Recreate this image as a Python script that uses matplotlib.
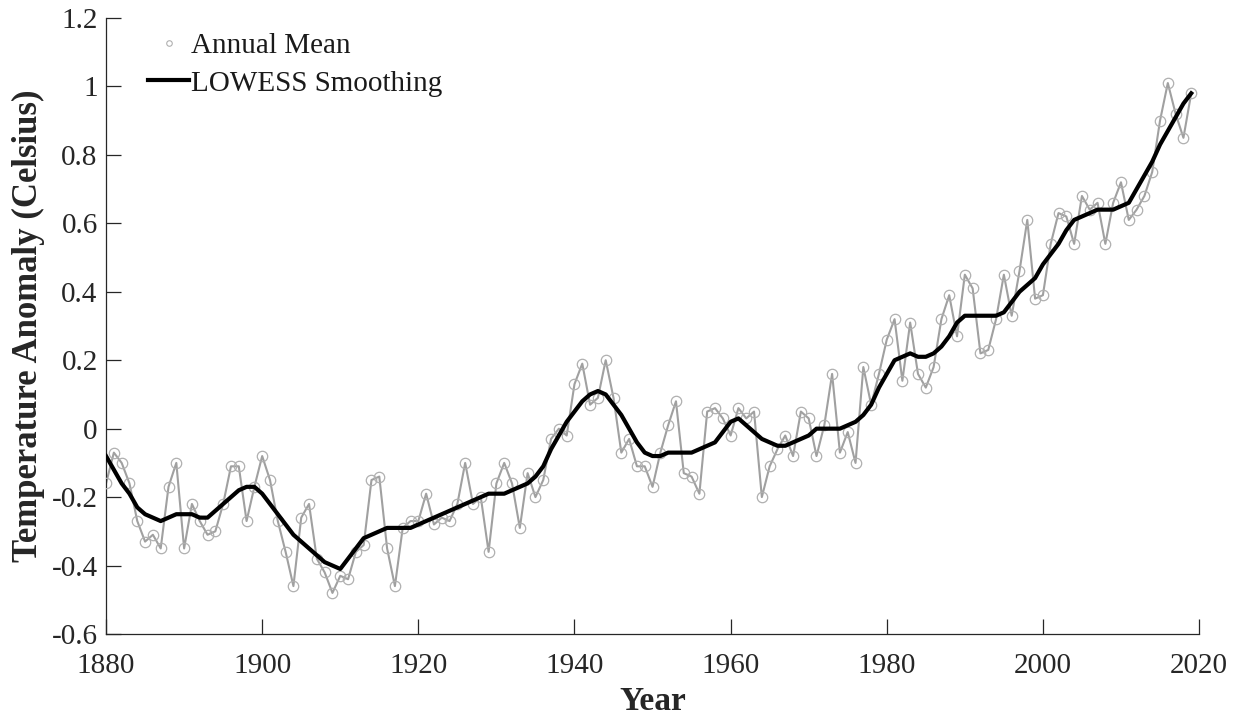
import numpy as np
import matplotlib
matplotlib.use("Agg")
import matplotlib.pyplot as plt
from matplotlib.lines import Line2D

years = list(range(1880, 2020))

annual_mean = [
    -0.16, -0.07, -0.10, -0.16, -0.27, -0.33, -0.31, -0.35, -0.17, -0.10,
    -0.35, -0.22, -0.27, -0.31, -0.30, -0.22, -0.11, -0.11, -0.27, -0.17,
    -0.08, -0.15, -0.27, -0.36, -0.46, -0.26, -0.22, -0.38, -0.42, -0.48,
    -0.43, -0.44, -0.36, -0.34, -0.15, -0.14, -0.35, -0.46, -0.29, -0.27,
    -0.27, -0.19, -0.28, -0.26, -0.27, -0.22, -0.10, -0.22, -0.20, -0.36,
    -0.16, -0.10, -0.16, -0.29, -0.13, -0.20, -0.15, -0.03, 0.00, -0.02,
    0.13, 0.19, 0.07, 0.09, 0.20, 0.09, -0.07, -0.03, -0.11, -0.11,
    -0.17, -0.07, 0.01, 0.08, -0.13, -0.14, -0.19, 0.05, 0.06, 0.03,
    -0.02, 0.06, 0.03, 0.05, -0.20, -0.11, -0.06, -0.02, -0.08, 0.05,
    0.03, -0.08, 0.01, 0.16, -0.07, -0.01, -0.10, 0.18, 0.07, 0.16,
    0.26, 0.32, 0.14, 0.31, 0.16, 0.12, 0.18, 0.32, 0.39, 0.27,
    0.45, 0.41, 0.22, 0.23, 0.32, 0.45, 0.33, 0.46, 0.61, 0.38,
    0.39, 0.54, 0.63, 0.62, 0.54, 0.68, 0.64, 0.66, 0.54, 0.66,
    0.72, 0.61, 0.64, 0.68, 0.75, 0.90, 1.01, 0.92, 0.85, 0.98,
]

lowess_smooth = [
    -0.08, -0.12, -0.16, -0.19, -0.23, -0.25, -0.26, -0.27, -0.26, -0.25,
    -0.25, -0.25, -0.26, -0.26, -0.24, -0.22, -0.20, -0.18, -0.17, -0.17,
    -0.19, -0.22, -0.25, -0.28, -0.31, -0.33, -0.35, -0.37, -0.39, -0.40,
    -0.41, -0.38, -0.35, -0.32, -0.31, -0.30, -0.29, -0.29, -0.29, -0.29,
    -0.28, -0.27, -0.26, -0.25, -0.24, -0.23, -0.22, -0.21, -0.20, -0.19,
    -0.19, -0.19, -0.18, -0.17, -0.16, -0.14, -0.11, -0.06, -0.02, 0.02,
    0.05, 0.08, 0.10, 0.11, 0.10, 0.07, 0.04, 0.00, -0.04, -0.07,
    -0.08, -0.08, -0.07, -0.07, -0.07, -0.07, -0.06, -0.05, -0.04, -0.01,
    0.02, 0.03, 0.01, -0.01, -0.03, -0.04, -0.05, -0.05, -0.04, -0.03,
    -0.02, 0.00, 0.00, 0.00, 0.00, 0.01, 0.02, 0.04, 0.07, 0.12,
    0.16, 0.20, 0.21, 0.22, 0.21, 0.21, 0.22, 0.24, 0.27, 0.31,
    0.33, 0.33, 0.33, 0.33, 0.33, 0.34, 0.37, 0.40, 0.42, 0.44,
    0.48, 0.51, 0.54, 0.58, 0.61, 0.62, 0.63, 0.64, 0.64, 0.64,
    0.65, 0.66, 0.70, 0.74, 0.78, 0.83, 0.87, 0.91, 0.95, 0.98,
]

x_ticks = [1880, 1900, 1920, 1940, 1960, 1980, 2000, 2020]
y_ticks = [-0.6, -0.4, -0.2, 0, 0.2, 0.4, 0.6, 0.8, 1, 1.2]
y_tick_labels = ["-0.6", "-0.4", "-0.2", "0", "0.2", "0.4", "0.6", "0.8", "1", "1.2"]

plt.rcParams["font.family"] = ["Liberation Serif", "DejaVu Serif"]

fig = plt.figure(figsize=(12.36, 7.15), dpi=100)
ax = fig.add_axes([0.0858, 0.1133, 0.8843, 0.8615])

gray = "#a0a0a0"
ax.plot(years, annual_mean, color=gray, lw=1.5, zorder=2)
ax.plot(years, annual_mean, ls="none", marker="o", ms=7.5, mfc="none",
        mec="#b0b0b0", mew=0.9, zorder=3)
ax.plot(years, lowess_smooth, color="black", lw=3, zorder=4)

ax.set_xlim(1880, 2020)
ax.set_ylim(-0.6, 1.2)
ax.set_xticks(x_ticks)
ax.set_yticks(y_ticks)
ax.set_yticklabels(y_tick_labels)

for side in ("top", "right"):
    ax.spines[side].set_visible(False)
for side in ("left", "bottom"):
    ax.spines[side].set_color("#262626")
    ax.spines[side].set_linewidth(0.9)

ax.tick_params(direction="in", length=11, width=0.9, color="#262626",
               labelsize=21, labelcolor="#262626")
ax.tick_params(axis="x", pad=14)
ax.tick_params(axis="y", pad=6)

ax.set_xlabel("Year", fontsize=24, fontweight="bold", color="#262626",
              labelpad=5)
ax.set_ylabel("Temperature Anomaly (Celsius)", fontsize=25,
              fontweight="bold", color="#262626", labelpad=5)

handles = [
    Line2D([], [], ls="none", marker="o", ms=4, mfc="none", mec="#b0b0b0",
           mew=0.8),
    Line2D([], [], color="black", lw=3),
]
labels = ["Annual Mean", "LOWESS Smoothing"]
leg = ax.legend(handles, labels, loc="upper left", frameon=False,
                fontsize=21, handlelength=1.4, handletextpad=0.05,
                borderaxespad=0.0, borderpad=0.4, labelspacing=0.38,
                bbox_to_anchor=(0.028, 0.995))
for t in leg.get_texts():
    t.set_color("#1a1a1a")

fig.savefig("out.png", dpi=100)
